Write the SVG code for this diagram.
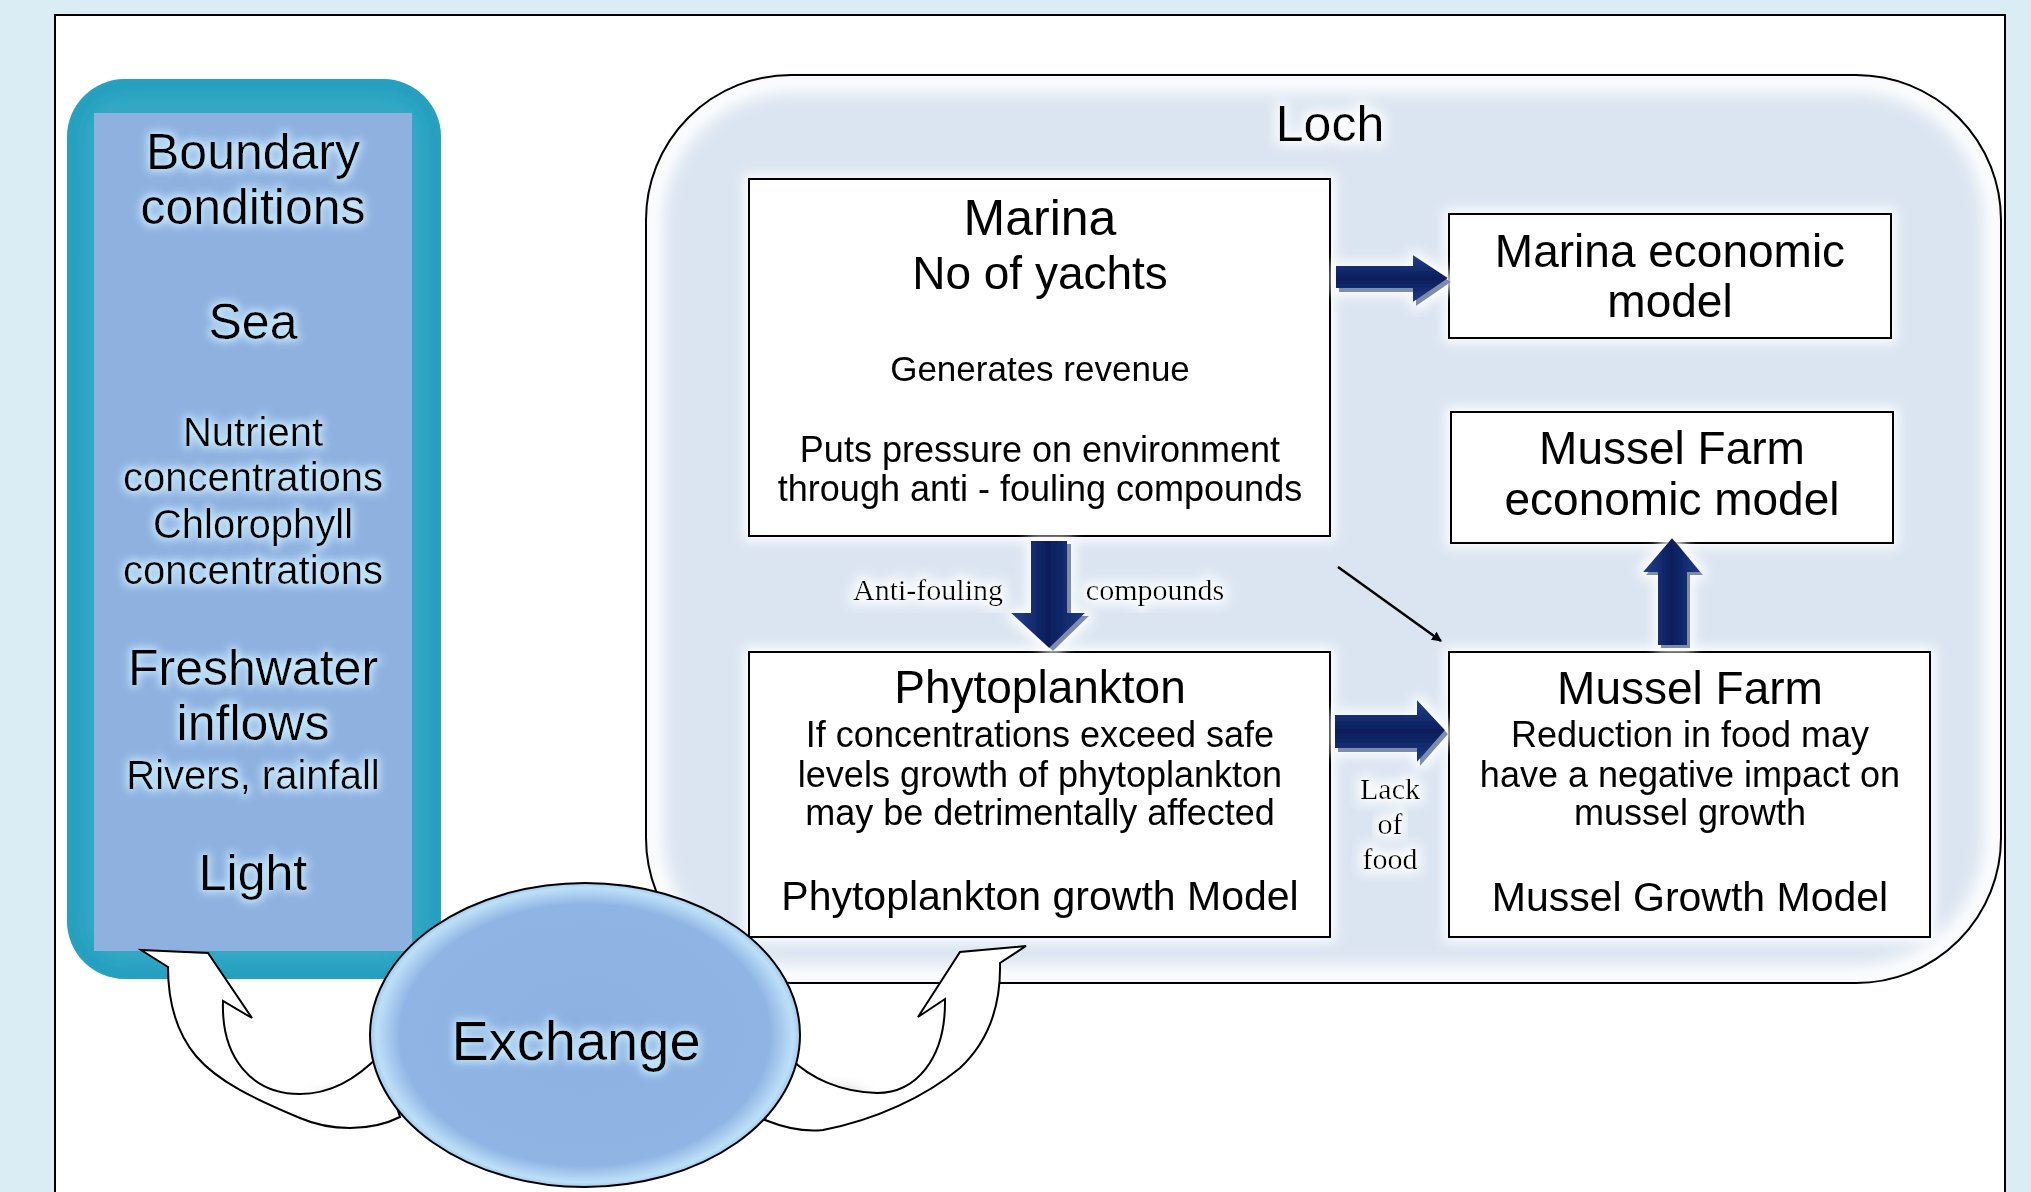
<svg xmlns="http://www.w3.org/2000/svg" width="2031" height="1192" viewBox="0 0 2031 1192">
<defs>
<style>
.s{font-family:"Liberation Sans",Arial,sans-serif;fill:#000;text-anchor:middle}
.t{font-family:"Liberation Serif","Times New Roman",serif;fill:#000;text-anchor:middle;font-size:30px}
.box{fill:#fff;stroke:#000;stroke-width:2}
.sh{fill:#7c8cae}
</style>
<filter id="halo" x="-20%" y="-20%" width="140%" height="140%">
<feMorphology in="SourceAlpha" operator="dilate" radius="4" result="d"/>
<feGaussianBlur in="d" stdDeviation="6" result="b"/>
<feFlood flood-color="#ffffff" flood-opacity="0.95"/>
<feComposite in2="b" operator="in" result="g"/>
<feMerge><feMergeNode in="g"/><feMergeNode in="SourceGraphic"/></feMerge>
</filter>
<filter id="tglow" x="-10%" y="-30%" width="120%" height="160%">
<feMorphology in="SourceAlpha" operator="dilate" radius="2" result="d"/>
<feGaussianBlur in="d" stdDeviation="4" result="b"/>
<feFlood flood-color="#c9ecff"/>
<feComposite in2="b" operator="in" result="g"/>
<feMerge><feMergeNode in="g"/><feMergeNode in="SourceGraphic"/></feMerge>
</filter>
<filter id="blur8"><feGaussianBlur stdDeviation="8"/></filter>
<filter id="blur6" x="-50%" y="-50%" width="200%" height="200%"><feGaussianBlur stdDeviation="7"/></filter>
<clipPath id="lochclip"><rect x="646" y="75" width="1355" height="908" rx="145"/></clipPath>
<clipPath id="panelclip"><rect x="67" y="79" width="374" height="900" rx="58"/></clipPath>
<linearGradient id="gh" x1="0" y1="0" x2="0" y2="1">
<stop offset="0" stop-color="#21428f"/><stop offset="0.5" stop-color="#0a1d5a"/><stop offset="1" stop-color="#1c3b86"/>
</linearGradient>
<linearGradient id="gv" x1="0" y1="0" x2="1" y2="0">
<stop offset="0" stop-color="#21428f"/><stop offset="0.5" stop-color="#0a1d5a"/><stop offset="1" stop-color="#1c3b86"/>
</linearGradient>
<radialGradient id="gell" cx="0.5" cy="0.5" r="0.5">
<stop offset="0" stop-color="#8db1e1"/><stop offset="0.86" stop-color="#90b5e4"/><stop offset="0.97" stop-color="#bde0f8"/><stop offset="1" stop-color="#a3c8ee"/>
</radialGradient>
<marker id="ah" markerWidth="10" markerHeight="10" refX="9" refY="5" orient="auto" markerUnits="userSpaceOnUse" viewBox="0 0 10 10">
<path d="M0,0 L10,5 L0,10 Z" fill="#000"/>
</marker>
</defs>

<rect x="0" y="0" width="2031" height="1192" fill="#daedf4"/>
<rect x="55" y="15" width="1950" height="1200" fill="#fff" stroke="#000" stroke-width="2"/>

<g id="loch">
<rect x="646" y="75" width="1355" height="908" rx="145" fill="#dbe5f1"/>
<g clip-path="url(#lochclip)">
<rect x="652" y="81" width="1343" height="896" rx="140" fill="none" stroke="#ffffff" stroke-width="22" filter="url(#blur8)"/>
</g>
<rect x="646" y="75" width="1355" height="908" rx="145" fill="none" stroke="#000" stroke-width="2"/>
<text class="s" x="1330" y="141" font-size="50" filter="url(#halo)">Loch</text>
</g>

<g id="boundary">
<rect x="67" y="79" width="374" height="900" rx="58" fill="#33a8c5"/>
<g clip-path="url(#panelclip)">
<rect x="72" y="84" width="364" height="890" rx="54" fill="none" stroke="#1697b9" stroke-width="10" filter="url(#blur8)"/>
</g>
<rect x="94" y="113" width="318" height="838" fill="#8fb1e0"/>
<g filter="url(#tglow)">
<text class="s" x="253" y="169" font-size="50">Boundary</text>
<text class="s" x="253" y="224" font-size="50">conditions</text>
<text class="s" x="253" y="339" font-size="50">Sea</text>
<text class="s" x="253" y="446" font-size="40">Nutrient</text>
<text class="s" x="253" y="491" font-size="40">concentrations</text>
<text class="s" x="253" y="538" font-size="40">Chlorophyll</text>
<text class="s" x="253" y="584" font-size="40">concentrations</text>
<text class="s" x="253" y="685" font-size="50">Freshwater</text>
<text class="s" x="253" y="740" font-size="50">inflows</text>
<text class="s" x="253" y="789" font-size="40">Rivers, rainfall</text>
<text class="s" x="253" y="890" font-size="50">Light</text>
</g>
</g>

<g id="marina" filter="url(#halo)">
<rect class="box" x="749" y="179" width="581" height="357"/>
<text class="s" x="1040" y="235" font-size="50">Marina</text>
<text class="s" x="1040" y="289" font-size="46">No of yachts</text>
<text class="s" x="1040" y="381" font-size="35">Generates revenue</text>
<text class="s" x="1040" y="462" font-size="36">Puts pressure on environment</text>
<text class="s" x="1040" y="501" font-size="36">through anti - fouling compounds</text>
</g>

<g id="marina-econ" filter="url(#halo)">
<rect class="box" x="1449" y="214" width="442" height="124"/>
<text class="s" x="1670" y="267" font-size="46">Marina economic</text>
<text class="s" x="1670" y="317" font-size="46">model</text>
</g>

<g id="mussel-econ" filter="url(#halo)">
<rect class="box" x="1451" y="412" width="442" height="131"/>
<text class="s" x="1672" y="464" font-size="46">Mussel Farm</text>
<text class="s" x="1672" y="515" font-size="46">economic model</text>
</g>

<g id="phytoplankton" filter="url(#halo)">
<rect class="box" x="749" y="652" width="581" height="285"/>
<text class="s" x="1040" y="703" font-size="46">Phytoplankton</text>
<text class="s" x="1040" y="747" font-size="36">If concentrations exceed safe</text>
<text class="s" x="1040" y="787" font-size="36">levels growth of phytoplankton</text>
<text class="s" x="1040" y="825" font-size="36">may be detrimentally affected</text>
<text class="s" x="1040" y="910" font-size="41">Phytoplankton growth Model</text>
</g>

<g id="mussel-farm" filter="url(#halo)">
<rect class="box" x="1449" y="652" width="481" height="285"/>
<text class="s" x="1690" y="704" font-size="46">Mussel Farm</text>
<text class="s" x="1690" y="747" font-size="36">Reduction in food may</text>
<text class="s" x="1690" y="787" font-size="36">have a negative impact on</text>
<text class="s" x="1690" y="825" font-size="36">mussel growth</text>
<text class="s" x="1690" y="911" font-size="41">Mussel Growth Model</text>
</g>

<g id="connectors">
<g filter="url(#halo)">
<path class="sh" d="M1339,270 H1416 V259 L1451,282 L1416,306 V292 H1339 Z"/>
<path d="M1336,266 H1413 V255 L1448,278 L1413,302 V288 H1336 Z" fill="url(#gh)"/>
</g>
<g filter="url(#halo)">
<path class="sh" d="M1035,544 H1071 V616 H1089 L1053,651 L1015,616 H1035 Z"/>
<path d="M1031,541 H1067 V613 H1085 L1049,648 L1011,613 H1031 Z" fill="url(#gv)"/>
</g>
<g filter="url(#halo)">
<path class="sh" d="M1338,719 H1420 V704 L1448,734 L1420,766 V752 H1338 Z"/>
<path d="M1335,715 H1417 V700 L1445,730 L1417,762 V748 H1335 Z" fill="url(#gh)"/>
</g>
<g filter="url(#halo)">
<path class="sh" d="M1661,648 V575 H1646 L1675,541 L1703,575 H1690 V648 Z"/>
<path d="M1658,645 V572 H1643 L1672,538 L1700,572 H1687 V645 Z" fill="url(#gv)"/>
</g>
<line x1="1338" y1="567" x2="1441" y2="641" stroke="#000" stroke-width="2.5" marker-end="url(#ah)"/>
<text class="t" x="928" y="600" filter="url(#halo)">Anti-fouling</text>
<text class="t" x="1155" y="600" filter="url(#halo)">compounds</text>
<text class="t" x="1390" y="799" filter="url(#halo)">Lack</text>
<text class="t" x="1390" y="834" filter="url(#halo)">of</text>
<text class="t" x="1390" y="869" filter="url(#halo)">food</text>

<ellipse cx="345" cy="1106" rx="40" ry="13" fill="#c8c8c8" filter="url(#blur6)"/>
<ellipse cx="828" cy="1101" rx="40" ry="13" fill="#c8c8c8" filter="url(#blur6)"/>
<path d="M141,950 L208,953 L252,1018 L223,1001 C221,1058 252,1094 300,1094 C330,1094 355,1080 380,1055 L400,1117 C370,1132 330,1131 300,1118 C255,1099 218,1082 196,1056 C176,1032 168,1000 168,967 Z" fill="#fff" stroke="#000" stroke-width="2" stroke-linejoin="miter"/>
<path d="M1026,946 L1000,963 C1001,1005 990,1040 960,1068 C925,1097 875,1120 823,1130 C805,1132 785,1128 765,1120 L790,1058 C810,1078 840,1092 877,1093 C915,1093 946,1060 945,999 L918,1017 L960,952 Z" fill="#fff" stroke="#000" stroke-width="2" stroke-linejoin="miter"/>
</g>

<g id="exchange">
<ellipse cx="585" cy="1035" rx="215" ry="152" fill="url(#gell)" stroke="#000" stroke-width="2"/>
<text class="s" x="576" y="1060" font-size="56" filter="url(#tglow)">Exchange</text>
</g>
</svg>
